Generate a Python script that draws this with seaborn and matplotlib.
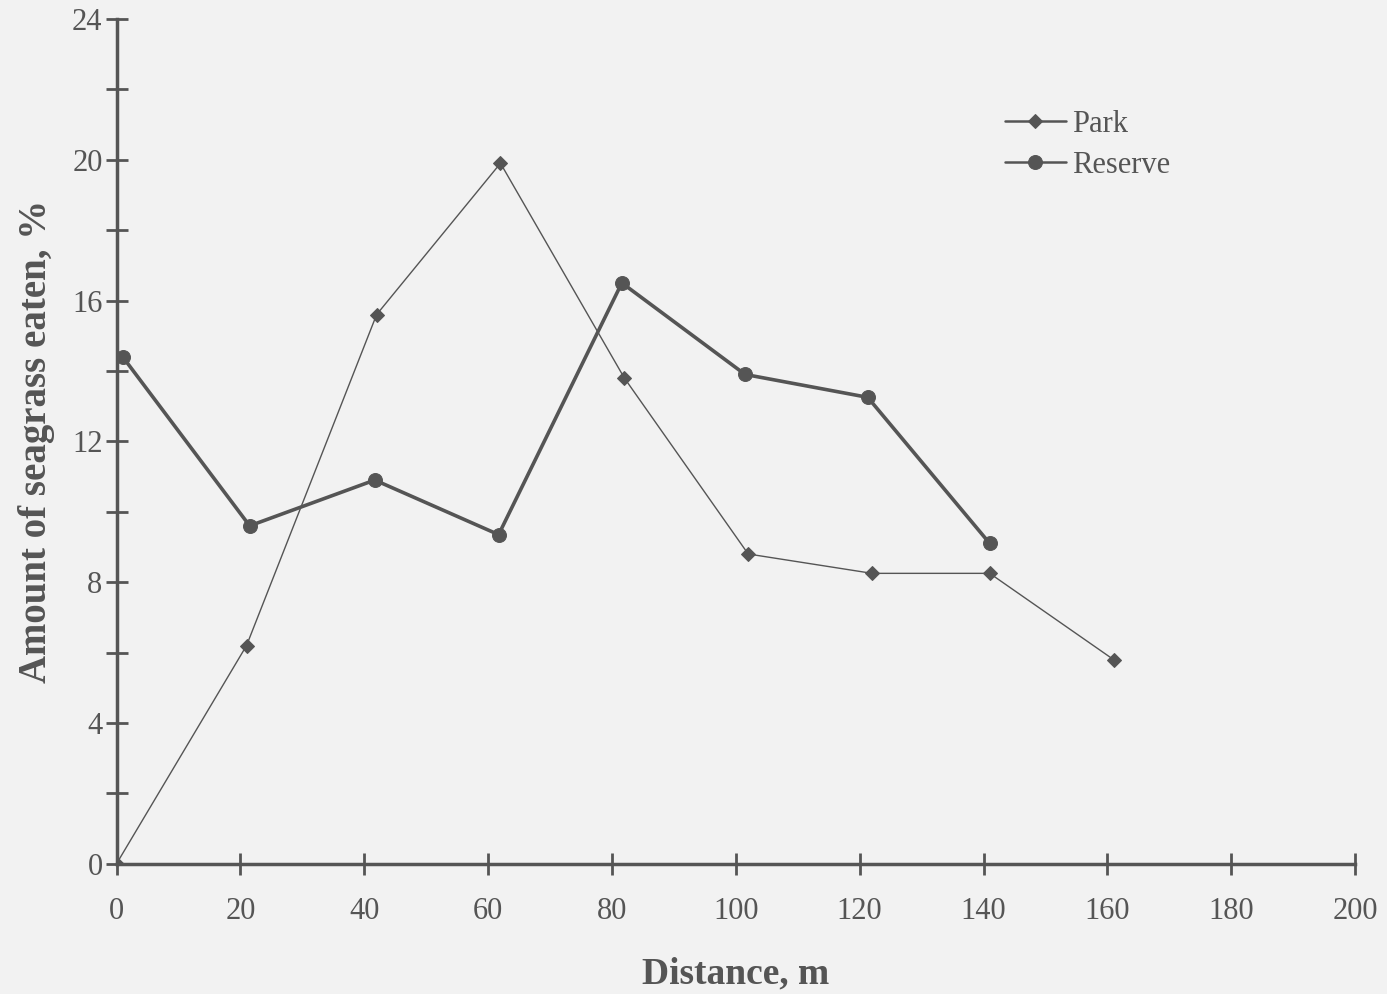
import matplotlib
matplotlib.use('Agg')
import matplotlib.pyplot as plt
import seaborn as sns
import pandas as pd
from matplotlib.ticker import MultipleLocator

# values
park_x = [0, 21, 42, 62, 82, 102, 122, 141, 161]
park_y = [0, 6.2, 15.6, 19.9, 13.8, 8.8, 8.25, 8.25, 5.8]
reserve_x = [1, 21.5, 41.7, 61.7, 81.6, 101.5, 121.3, 141]
reserve_y = [14.4, 9.6, 10.9, 9.35, 16.5, 13.9, 13.25, 9.1]

park = pd.DataFrame({'Distance': park_x, 'Eaten': park_y})
reserve = pd.DataFrame({'Distance': reserve_x, 'Eaten': reserve_y})

sns.set_style('white')
plt.rcParams['font.family'] = ['Liberation Serif', 'DejaVu Serif']

ink = '#555555'
bg = '#f2f2f2'

fig = plt.figure(figsize=(13.87, 9.94), dpi=100, facecolor=bg)
ax = fig.add_axes([0.084, 0.131, 0.893, 0.850], facecolor=bg)

sns.lineplot(data=park, x='Distance', y='Eaten', ax=ax, color=ink, lw=1.0,
             marker='D', markersize=7, markeredgecolor=ink, label='Park')
sns.lineplot(data=reserve, x='Distance', y='Eaten', ax=ax, color=ink, lw=2.6,
             marker='o', markersize=10, markeredgecolor=ink, label='Reserve')

ax.set_xlim(0, 200)
ax.set_ylim(0, 24)
ax.set_xticks(range(0, 201, 20))
ax.yaxis.set_major_locator(MultipleLocator(4))
ax.yaxis.set_minor_locator(MultipleLocator(2))

for s in ['top', 'right']:
    ax.spines[s].set_visible(False)
for s in ['left', 'bottom']:
    ax.spines[s].set_color(ink)
    ax.spines[s].set_linewidth(2.5)

ax.tick_params(axis='both', which='both', direction='inout', color=ink,
               width=2, length=16, labelcolor=ink, labelsize=22,
               bottom=True, left=True, top=False, right=False)
ax.tick_params(axis='x', pad=16)
ax.tick_params(axis='y', pad=2)

ax.set_xlabel('Distance, m', fontsize=27, fontweight='bold', color=ink, labelpad=22)
ax.set_ylabel('Amount of seagrass eaten, %', fontsize=28, fontweight='bold',
              color=ink, labelpad=12)

leg = ax.legend(loc='upper left', bbox_to_anchor=(0.695, 0.925), frameon=False,
                fontsize=22, handlelength=2.0, handletextpad=0.2, labelspacing=0.4)
for t in leg.get_texts():
    t.set_color(ink)
for h in leg.get_lines():
    h.set_linewidth(1.8)

fig.savefig('out.png', dpi=100, facecolor=bg)
